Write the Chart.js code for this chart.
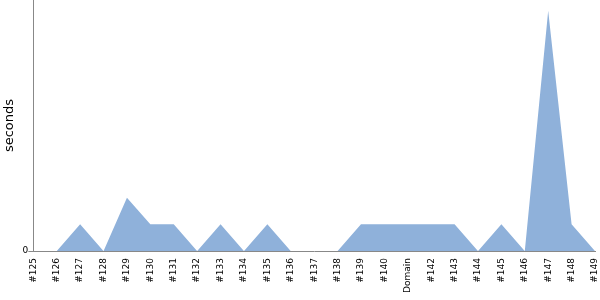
<!DOCTYPE html>
<html>
<head>
<meta charset="utf-8">
<script src="https://cdn.jsdelivr.net/npm/chart.js@4"></script>
<style>
  html, body { margin: 0; padding: 0; background: #fff; }
  #wrap { width: 600px; height: 300px; }
</style>
</head>
<body>
<div id="wrap"><canvas id="grafico"></canvas></div>
<script>
const builds = ['#125', '#126', '#127', '#128', '#129', '#130', '#131', '#132', '#133', '#134',
    '#135', '#136', '#137', '#138', '#139', '#140', 'Domain', '#142', '#143', '#144',
    '#145', '#146', '#147', '#148', '#149'];
const seconds = [0, 0, 1, 0, 2, 1, 1, 0, 1, 0,
    1, 0, 0, 0, 1, 1, 1, 1, 1, 0,
    1, 0, 9, 1, 0];
const yTicks = [0];

Chart.defaults.font.family = 'DejaVu Sans';
Chart.defaults.color = '#000';

new Chart(document.getElementById('grafico').getContext('2d'), {
    type: 'line',
    data: {
        labels: builds,
        datasets: [{
            label: 'seconds',
            data: seconds,
            fill: 'origin',
            backgroundColor: '#8fb1da',
            borderWidth: 0,
            pointRadius: 0,
            tension: 0
        }]
    },
    options: {
        responsive: true,
        maintainAspectRatio: false,
        animation: false,
        layout: { padding: { top: 0, right: 5, bottom: 0, left: 0 } },
        plugins: {
            legend: { display: false },
            tooltip: { enabled: false }
        },
        scales: {
            x: {
                offset: false,
                grid: { display: false, drawTicks: false },
                border: { display: true, color: '#888', width: 1 },
                ticks: {
                    autoSkip: false,
                    minRotation: 90,
                    maxRotation: 90,
                    padding: 7,
                    font: { size: 9 }
                },
                afterFit: function (axis) {
                    axis.paddingRight = 0;
                    axis.paddingLeft = 0;
                }
            },
            y: {
                min: 0,
                max: 9.4,
                afterBuildTicks: function (axis) {
                    axis.ticks = yTicks.map(v => ({ value: v }));
                },
                afterFit: function (axis) {
                    axis.paddingTop = 0;
                },
                grid: { display: true, drawOnChartArea: false, tickLength: 5, color: '#888' },
                border: { display: true, color: '#888', width: 1 },
                ticks: { padding: 0, font: { size: 9 } },
                title: { display: true, text: 'seconds', font: { size: 13 }, padding: { top: 2, bottom: 5 } }
            }
        }
    }
});
</script>
</body>
</html>
